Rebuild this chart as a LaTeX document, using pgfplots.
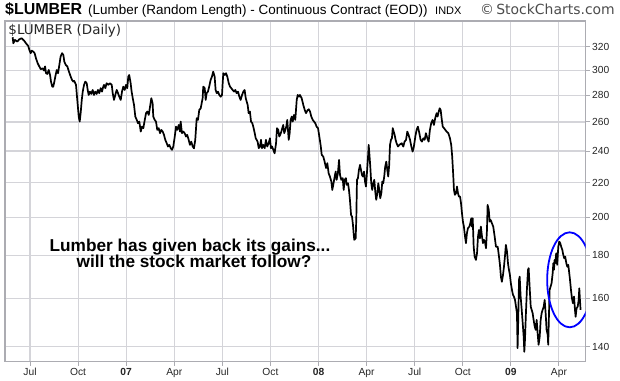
\documentclass[border=0pt]{standalone}
\usepackage{pgfplots}
\pgfplotsset{compat=1.18}
\usepackage{fontspec}
\setmainfont{Liberation Sans}
\newfontfamily\verd{DejaVu Sans}
\definecolor{gridc}{RGB}{212,212,217}
\definecolor{framec}{RGB}{172,172,178}
\begin{document}
\begin{tikzpicture}
\path (0,0) rectangle (620bp,380bp);
\begin{axis}[
  at={(5bp,18.3bp)}, anchor=south west,
  width=580.7bp, height=340.7bp, scale only axis,
  xmin=4.44, xmax=40.67,
  ymode=log, ymin=134.3, ymax=343.5,
  xtick={6,9,12,15,18,21,24,27,30,33,36,39},
  xticklabels={Jul,Oct,\textbf{07},Apr,Jul,Oct,\textbf{08},Apr,Jul,Oct,\textbf{09},Apr},
  ytick={140,160,180,200,220,240,260,280,300,320},
  yticklabels={140,160,180,200,220,240,260,280,300,320},
  yticklabel pos=right, ytick pos=right, xtick pos=bottom,
  tick align=outside, major tick length=4bp,
  minor tick num=0,
  grid=major,
  grid style={color=gridc, line width=1.1bp},
  tick style={color=framec, line width=1bp},
  axis line style={color=framec, line width=1.1bp},
  ticklabel style={font=\fontsize{10.3}{12}\selectfont, text=black!85},
  yticklabel style={anchor=west, xshift=-1bp},
  xticklabel style={yshift=1bp},
  clip=true,
]
\addplot[black, line width=1.7bp, line join=round] table {
x y
4.92 328.4
4.96 323.0
5.06 326.0
5.21 324.5
5.33 326.6
5.48 327.5
5.63 325.4
5.75 323.0
5.89 320.6
5.96 317.1
6.04 314.3
6.11 316.5
6.21 315.6
6.29 314.3
6.37 310.0
6.48 305.7
6.58 303.0
6.67 300.7
6.79 301.5
6.87 299.6
6.94 303.0
7.00 297.4
7.08 296.8
7.17 300.1
7.25 296.0
7.31 290.6
7.39 286.6
7.45 286.6
7.52 290.6
7.60 296.0
7.67 300.1
7.75 297.4
7.83 304.3
7.91 311.4
8.00 314.3
8.08 312.8
8.14 307.1
8.23 304.3
8.33 303.0
8.43 298.7
8.54 294.6
8.62 292.0
8.70 290.6
8.76 291.2
8.87 288.0
8.95 276.3
9.04 263.9
9.10 260.3
9.16 266.4
9.23 276.3
9.29 282.7
9.37 288.0
9.45 290.6
9.54 289.3
9.60 284.0
9.66 280.1
9.74 282.7
9.82 280.9
9.91 284.0
9.99 280.1
10.07 282.7
10.16 280.9
10.24 284.0
10.32 281.5
10.41 285.4
10.49 282.7
10.57 286.6
10.62 288.0
10.70 285.4
10.78 289.3
10.88 288.0
10.99 289.3
11.10 288.0
11.16 281.5
11.24 276.3
11.32 280.1
11.41 284.0
11.49 281.5
11.57 278.8
11.66 276.3
11.74 282.7
11.82 286.6
11.91 284.0
11.99 288.0
12.07 285.4
12.13 294.6
12.19 296.0
12.28 289.3
12.34 282.7
12.41 277.6
12.49 272.5
12.57 263.9
12.66 261.5
12.74 259.1
12.82 260.3
12.91 253.2
12.99 256.7
13.07 255.6
13.16 261.5
13.24 266.4
13.32 267.6
13.41 265.1
13.49 271.3
13.57 277.6
13.65 273.8
13.69 263.9
13.78 261.5
13.86 260.3
13.94 254.4
14.03 255.6
14.11 252.1
14.19 254.4
14.28 253.2
14.36 250.9
14.44 247.5
14.53 245.2
14.61 243.0
14.69 244.1
14.78 241.9
14.86 240.8
14.94 243.0
15.03 249.7
15.11 256.7
15.19 254.4
15.28 257.9
15.36 253.2
15.40 260.3
15.48 252.1
15.56 253.2
15.65 252.1
15.73 249.8
15.81 250.9
15.90 247.5
15.98 244.1
16.06 246.3
16.15 243.0
16.23 241.8
16.31 247.5
16.40 262.7
16.48 261.5
16.56 268.8
16.65 270.0
16.77 277.6
16.81 286.6
16.90 285.4
16.96 276.3
17.02 281.5
17.10 282.7
17.18 286.6
17.27 292.0
17.35 294.6
17.43 298.7
17.52 294.6
17.58 284.0
17.65 281.5
17.73 282.7
17.81 280.1
17.90 278.8
17.98 280.1
18.02 289.3
18.06 297.4
18.15 296.0
18.23 297.4
18.31 294.6
18.40 289.3
18.48 286.6
18.56 285.4
18.64 284.0
18.73 282.7
18.81 284.0
18.89 281.5
18.98 282.7
19.06 278.8
19.14 276.3
19.23 280.1
19.31 282.7
19.39 284.0
19.46 277.6
19.52 275.0
19.58 272.5
19.64 266.4
19.72 267.6
19.79 260.3
19.87 259.1
19.93 256.7
20.02 252.1
20.08 248.7
20.14 247.5
20.20 246.3
20.27 241.9
20.35 243.0
20.41 247.5
20.47 241.9
20.55 244.1
20.64 241.9
20.72 247.5
20.80 243.0
20.89 245.2
20.97 248.6
21.03 241.9
21.10 243.0
21.18 240.8
21.26 238.5
21.35 245.2
21.41 255.6
21.49 254.4
21.55 249.8
21.61 250.9
21.68 253.2
21.74 255.6
21.80 257.9
21.86 252.1
21.93 254.4
21.99 256.7
22.05 261.5
22.14 247.5
22.20 252.1
22.26 261.5
22.33 263.9
22.39 260.3
22.47 265.1
22.55 261.5
22.64 276.3
22.70 280.1
22.80 278.8
22.84 280.1
22.95 277.6
23.05 272.5
23.14 268.8
23.22 266.4
23.30 268.3
23.39 269.3
23.47 267.6
23.55 263.9
23.64 261.5
23.72 260.3
23.80 259.1
23.88 256.7
23.97 255.6
24.05 249.8
24.13 244.1
24.20 237.5
24.30 236.3
24.38 233.1
24.47 229.0
24.55 232.1
24.63 225.8
24.71 223.7
24.80 220.7
24.86 215.6
24.92 218.6
25.01 223.7
25.07 226.8
25.13 221.7
25.21 225.8
25.28 234.2
25.34 224.7
25.42 221.7
25.51 222.7
25.57 215.6
25.63 221.7
25.71 222.7
25.76 218.6
25.84 219.6
25.90 215.6
25.96 209.8
26.03 201.3
26.09 200.3
26.15 195.8
26.19 191.4
26.23 187.9
26.32 188.7
26.36 200.3
26.40 221.7
26.46 222.7
26.52 227.8
26.59 231.0
26.65 227.8
26.71 224.7
26.77 223.7
26.84 226.8
26.90 220.7
26.96 217.6
27.02 225.8
27.09 236.4
27.13 244.1
27.17 238.6
27.23 229.9
27.29 219.6
27.35 215.6
27.42 219.6
27.48 221.7
27.54 214.6
27.60 209.8
27.67 213.7
27.73 219.6
27.79 215.6
27.85 210.7
27.92 213.7
27.98 220.7
28.04 219.6
28.10 223.7
28.16 229.9
28.23 233.1
28.29 227.8
28.35 223.7
28.41 231.0
28.46 244.1
28.52 247.5
28.58 248.6
28.63 255.6
28.69 253.2
28.75 250.9
28.81 247.5
28.87 245.2
28.96 243.0
29.04 244.1
29.19 245.2
29.29 243.0
29.37 246.3
29.46 247.5
29.54 253.2
29.62 250.9
29.71 247.5
29.79 243.0
29.87 239.6
29.95 243.0
30.04 249.8
30.12 254.4
30.20 256.7
30.29 252.1
30.37 247.5
30.45 246.3
30.54 248.6
30.62 247.5
30.70 252.1
30.79 248.6
30.87 246.3
30.95 254.4
31.03 259.1
31.12 261.5
31.20 257.9
31.28 262.7
31.37 266.4
31.43 263.9
31.50 267.6
31.56 270.0
31.62 268.8
31.68 262.7
31.75 256.7
31.83 255.6
31.91 254.4
31.99 253.2
32.10 252.1
32.20 248.6
32.28 244.1
32.34 236.4
32.41 223.7
32.45 215.6
32.51 212.7
32.58 213.7
32.64 217.6
32.70 213.7
32.76 211.7
32.83 211.7
32.89 207.9
32.95 202.2
33.01 197.6
33.07 194.9
33.14 189.6
33.20 186.2
33.26 191.4
33.32 194.0
33.41 194.9
33.47 196.7
33.53 199.4
33.57 194.9
33.62 199.4
33.68 184.4
33.74 179.4
33.82 177.8
33.89 181.1
33.95 189.6
34.01 193.1
34.07 188.7
34.13 194.9
34.20 189.6
34.26 186.2
34.32 187.9
34.38 187.0
34.45 183.6
34.51 193.1
34.55 206.9
34.62 204.1
34.68 197.6
34.74 198.5
34.82 196.7
34.90 194.9
34.99 189.6
35.07 184.4
35.18 184.4
35.26 179.4
35.32 175.4
35.38 169.7
35.44 167.4
35.51 170.6
35.57 174.5
35.63 179.4
35.69 185.3
35.76 181.9
35.82 176.2
35.88 173.0
35.94 170.6
36.00 166.7
36.07 163.7
36.13 161.5
36.19 160.7
36.26 159.2
36.32 156.3
36.38 153.5
36.42 139.4
36.46 150.7
36.51 168.3
36.55 169.8
36.61 160.7
36.67 155.6
36.74 149.3
36.80 143.9
36.84 138.0
36.88 142.6
36.94 153.5
37.00 163.7
37.07 173.0
37.11 173.8
37.17 165.2
37.24 156.3
37.30 154.9
37.36 153.5
37.42 150.7
37.49 147.9
37.55 146.6
37.61 150.7
37.67 145.3
37.73 140.7
37.80 143.9
37.86 150.7
37.92 153.5
37.98 154.9
38.05 156.3
38.11 159.2
38.17 153.5
38.23 146.6
38.30 144.6
38.33 140.7
38.38 153.5
38.42 163.7
38.48 165.2
38.54 166.7
38.61 171.4
38.65 176.2
38.69 173.0
38.73 177.8
38.77 176.2
38.83 181.1
38.89 175.4
38.96 184.4
39.02 187.0
39.08 186.2
39.14 184.4
39.21 182.8
39.27 180.3
39.33 178.6
39.39 179.4
39.46 176.2
39.52 174.5
39.58 175.4
39.62 173.0
39.69 168.3
39.75 163.7
39.81 160.0
39.87 157.8
39.94 160.7
40.00 154.9
40.04 152.0
40.10 155.6
40.17 156.3
40.23 159.2
40.27 164.4
40.31 159.2
40.35 154.9
};
\draw[blue, line width=1.8bp] (axis cs:39.67,168.3) ellipse [x radius=22.5bp, y radius=47.5bp];
\end{axis}
% title
\node[anchor=base west, inner sep=0pt] at (5bp,365bp) {\fontsize{16}{18}\selectfont\bfseries \$LUMBER};
\node[anchor=base west, inner sep=0pt] at (88bp,365bp) {\fontsize{13.5}{15}\selectfont (Lumber (Random Length) - Continuous Contract (EOD))};
\node[anchor=base west, inner sep=0pt] at (435bp,365bp) {\fontsize{11}{13}\selectfont INDX};
\node[anchor=base east, inner sep=0pt, text=black!70] at (615bp,365bp) {\verd\fontsize{14}{16}\selectfont \textcopyright\,StockCharts.com};
% in-plot label
\node[anchor=base west, inner sep=0pt, text=black!85] at (8.3bp,345bp) {\verd\fontsize{13.5}{15}\selectfont \$LUMBER (Daily)};
% annotation
\node[anchor=base, inner sep=0pt] at (190bp,128.3bp) {\fontsize{17.3}{19}\selectfont\bfseries Lumber has given back its gains...};
\node[anchor=base, inner sep=0pt] at (194bp,112bp) {\fontsize{17.3}{19}\selectfont\bfseries will the stock market follow?};
\end{tikzpicture}
\end{document}
